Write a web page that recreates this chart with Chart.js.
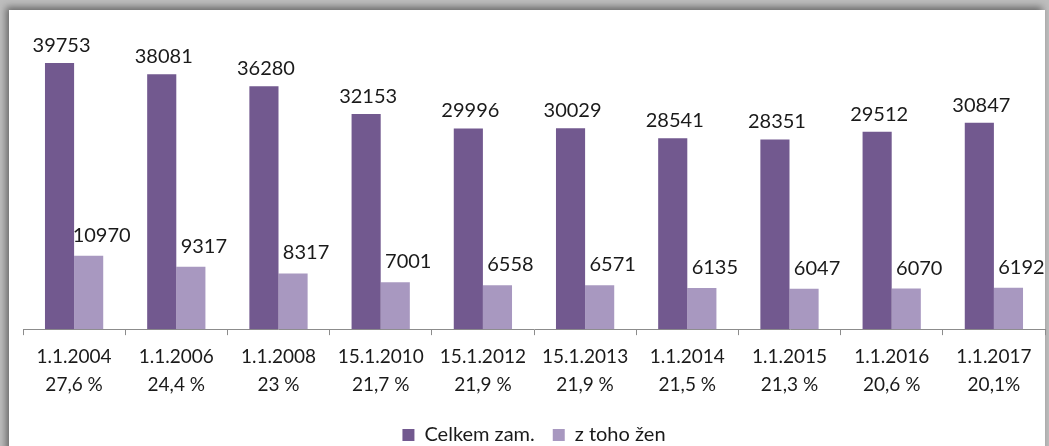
<!DOCTYPE html>
<html>
<head>
<meta charset="utf-8">
<script src="https://cdn.jsdelivr.net/npm/chart.js@4"></script>
<style>
  html, body { margin: 0; padding: 0; background: #ffffff; }
  #wrap { position: relative; width: 1049px; height: 446px; overflow: hidden; background: #bdbdbd; }
  #panel {
    position: absolute; left: 9px; top: 10px; width: 1036px; height: 460px;
    background: #ffffff;
    box-shadow: -3px -3px 7px rgba(0,0,0,0.45);
  }
  #c { position: absolute; left: 0; top: 0; }
</style>
</head>
<body>
<div id="wrap">
  <div id="panel"></div>
  <canvas id="c" width="1049" height="457"></canvas>
</div>
<script>
// Stav zaměstnanců k danému datu a podíl žen
const dates = ['1.1.2004', '1.1.2006', '1.1.2008', '15.1.2010', '15.1.2012', '15.1.2013', '1.1.2014', '1.1.2015', '1.1.2016', '1.1.2017'];
const shares = ['27,6 %', '24,4 %', '23 %', '21,7 %', '21,9 %', '21,9 %', '21,5 %', '21,3 %', '20,6 %', '20,1%'];
const celkem = [39753, 38081, 36280, 32153, 29996, 30029, 28541, 28351, 29512, 30847];
const zeny = [10970, 9317, 8317, 7001, 6558, 6571, 6135, 6047, 6070, 6192];

const purple = '#72598f';
const lilac = '#a898c0';

const labels = dates.map((d, i) => [d, shares[i]]);

// Popisky hodnot nad sloupci
const valueLabels = {
  id: 'valueLabels',
  afterDatasetsDraw(chart) {
    const ctx = chart.ctx;
    ctx.save();
    ctx.font = '20px Lato';
    ctx.fillStyle = '#1a1a1a';
    ctx.textAlign = 'center';
    ctx.textBaseline = 'alphabetic';
    chart.data.datasets.forEach((ds, di) => {
      const meta = chart.getDatasetMeta(di);
      meta.data.forEach((bar, i) => {
        const dx = di === 0 ? 2 : 13;
        const dy = di === 0 ? 11 : 14;
        ctx.fillText(String(ds.data[i]), bar.x + dx, bar.y - dy);
      });
    });
    ctx.restore();
  }
};

new Chart(document.getElementById('c'), {
  type: 'bar',
  data: {
    labels: labels,
    datasets: [
      { label: 'Celkem zam.', data: celkem, backgroundColor: purple, categoryPercentage: 0.57, barPercentage: 1.0 },
      { label: 'z toho žen', data: zeny, backgroundColor: lilac, categoryPercentage: 0.57, barPercentage: 1.0 }
    ]
  },
  options: {
    responsive: false,
    animation: false,
    layout: { padding: { left: 23, right: 4, top: 28, bottom: 2 } },
    plugins: {
      legend: {
        position: 'bottom',
        labels: {
          font: { family: 'Lato', size: 20 },
          color: '#1a1a1a',
          boxWidth: 12,
          boxHeight: 12,
          padding: 18
        }
      },
      tooltip: { enabled: false }
    },
    scales: {
      x: {
        grid: { offset: true, drawOnChartArea: false, color: '#8c8c8c', tickLength: 6 },
        border: { color: '#8c8c8c' },
        ticks: {
          font: { family: 'Lato', size: 19, lineHeight: 1.47 },
          color: '#1a1a1a',
          maxRotation: 0,
          autoSkip: false,
          padding: 8
        }
      },
      y: {
        display: false,
        min: 0,
        max: 45000
      }
    }
  },
  plugins: [valueLabels]
});
</script>
</body>
</html>
